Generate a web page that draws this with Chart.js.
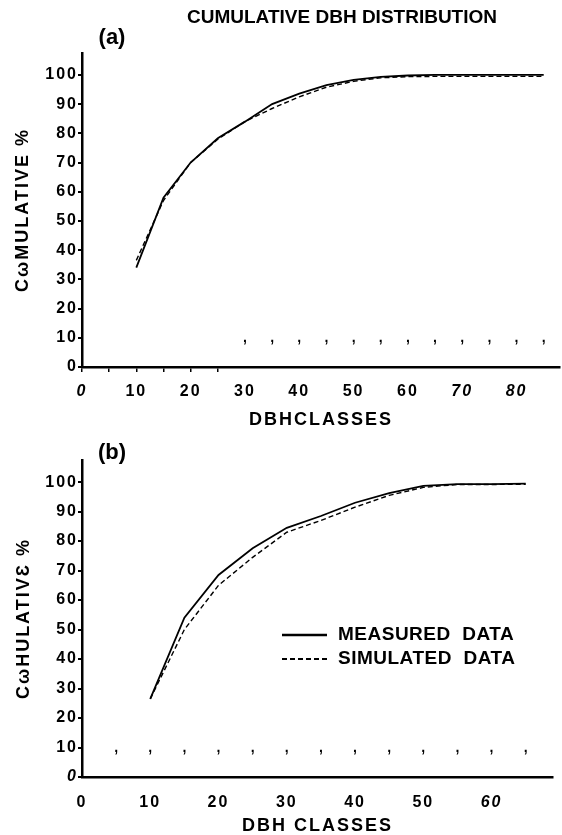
<!DOCTYPE html>
<html>
<head>
<meta charset="utf-8">
<script src="https://cdn.jsdelivr.net/npm/chart.js@4.4.0/dist/chart.umd.min.js"></script>
<style>
  body { margin: 0; background: #fff; }
  .wrap { position: absolute; left: 0; width: 562px; }
  #wrapA { top: 0; height: 435px; }
  #wrapB { top: 435px; height: 400px; }
</style>
</head>
<body>
<div class="wrap" id="wrapA"><canvas id="chartA"></canvas></div>
<div class="wrap" id="wrapB"><canvas id="chartB"></canvas></div>
<script>
// (a) cumulative dbh distribution
const classesA = [10, 15, 20, 25, 30, 35, 40, 45, 50, 55, 60, 65, 70, 75, 80, 85];
const measuredA = [34, 58, 70, 78.3, 84, 90, 93.6, 96.5, 98.3, 99.3, 99.8, 100, 100, 100, 100, 100];
const simulatedA = [36.5, 57, 70, 78, 84, 88.5, 92.5, 95.8, 97.8, 99, 99.4, 99.5, 99.5, 99.5, 99.5, 99.5];
const xTicksA = [0, 5, 10, 15, 20, 25, 30, 40, 50, 60, 70, 80];
const commasA = [30, 35, 40, 45, 50, 55, 60, 65, 70, 75, 80, 85];

// (b)
const classesB = [10, 15, 20, 25, 30, 35, 40, 45, 50, 55, 60, 65];
const measuredB = [26.5, 54, 68.5, 77.6, 84.5, 88.5, 93, 96.3, 98.7, 99.3, 99.3, 99.5];
const simulatedB = [26.5, 50, 65, 74.5, 83, 87, 91.5, 95.5, 98.2, 99.2, 99.2, 99.3];
const xTicksB = [0, 10, 20, 30, 40, 50, 60];
const commasB = [5, 10, 15, 20, 25, 30, 35, 40, 45, 50, 55, 60, 65];

const yTicks = [0, 10, 20, 30, 40, 50, 60, 70, 80, 90, 100];

const FONT = '"Liberation Sans", Arial, sans-serif';

const toXY = (xs, ys) => xs.map((x, i) => ({ x: x, y: ys[i] }));

// little marks the library has no option for: commas, title, panel letter, legend
const marks = {
  id: 'marks',
  beforeUpdate(chart) {
    chart.ctx.letterSpacing = '2px';
  },
  afterDatasetsDraw(chart, args, opts) {
    const { ctx, scales: { x, y } } = chart;
    ctx.save();
    ctx.fillStyle = '#000';
    ctx.letterSpacing = '0px';
    ctx.font = 'bold 14px ' + FONT;
    ctx.textAlign = 'center';
    ctx.textBaseline = 'alphabetic';
    opts.commas.forEach(v => ctx.fillText(',', x.getPixelForValue(v), y.getPixelForValue(opts.commaY)));

    ctx.textBaseline = 'middle';
    opts.texts.forEach(t => {
      ctx.font = t.font;
      ctx.textAlign = t.align || 'center';
      ctx.letterSpacing = t.spacing || '0px';
      ctx.fillText(t.text, t.x, t.y);
    });

    if (opts.legend) {
      const L = opts.legend;
      chart.data.datasets.forEach((ds, i) => {
        const yy = L.y + i * L.gap;
        ctx.beginPath();
        ctx.setLineDash(ds.borderDash || []);
        ctx.lineWidth = ds.borderWidth + 0.6;
        ctx.strokeStyle = ds.borderColor;
        ctx.moveTo(L.x, yy);
        ctx.lineTo(L.x + L.len, yy);
        ctx.stroke();
        ctx.setLineDash([]);
        ctx.font = L.font;
        ctx.textAlign = 'left';
        ctx.letterSpacing = '0.5px';
        ctx.fillText(ds.label, L.x + L.len + 11, yy);
      });
    }
    ctx.restore();
  }
};

function makeChart(id, cfg) {
  return new Chart(document.getElementById(id), {
    type: 'line',
    data: {
      datasets: [
        {
          label: 'MEASURED  DATA',
          data: toXY(cfg.classes, cfg.measured),
          borderColor: '#000',
          borderWidth: 1.8,
          pointRadius: 0,
          tension: 0,
          fill: false
        },
        {
          label: 'SIMULATED  DATA',
          data: toXY(cfg.classes, cfg.simulated),
          borderColor: '#000',
          borderWidth: 1.4,
          borderDash: [5, 3],
          pointRadius: 0,
          tension: 0,
          fill: false
        }
      ]
    },
    options: {
      responsive: true,
      maintainAspectRatio: false,
      animation: false,
      layout: { padding: cfg.padding },
      plugins: {
        legend: { display: false },
        tooltip: { enabled: false },
        marks: cfg.marks
      },
      scales: {
        x: {
          type: 'linear',
          min: 0,
          max: cfg.xMax,
          afterBuildTicks: s => { s.ticks = cfg.xTicks.map(v => ({ value: v })); },
          afterFit: s => { s.height = cfg.xHeight; },
          border: { color: '#000', width: 2.5 },
          grid: {
            display: cfg.xTickMarks,
            drawOnChartArea: false,
            tickLength: 5,
            lineWidth: 1.5,
            tickColor: c => (c.tick && c.tick.value <= 25) ? '#000' : 'rgba(0,0,0,0)'
          },
          ticks: {
            autoSkip: false,
            maxRotation: 0,
            padding: cfg.xPad,
            color: '#000',
            font: c => ({ family: FONT, size: 16, weight: 'bold',
              style: cfg.italicX.includes(c.tick && c.tick.value) ? 'italic' : 'normal' }),
            callback: v => (v % 10 === 0 ? String(v) : '')
          },
          title: {
            display: true,
            text: cfg.xTitle,
            color: '#000',
            font: { family: FONT, size: 18, weight: 'bold', lineHeight: 1 },
            padding: { top: 0, bottom: cfg.xTitlePad }
          }
        },
        y: {
          type: 'linear',
          min: 0,
          max: 107.5,
          afterBuildTicks: s => { s.ticks = yTicks.map(v => ({ value: v })); },
          afterFit: s => { s.width = 82; },
          border: { color: '#000', width: 2.5 },
          grid: { drawOnChartArea: false, tickLength: 4, lineWidth: 2, color: '#000' },
          ticks: {
            autoSkip: false,
            padding: 0,
            color: '#000',
            font: c => ({ family: FONT, size: 16, weight: 'bold',
              style: cfg.italicY.includes(c.tick && c.tick.value) ? 'italic' : 'normal' })
          },
          title: {
            display: true,
            text: cfg.yTitle,
            color: '#000',
            font: { family: FONT, size: 18, weight: 'bold', lineHeight: 1.2 },
            padding: { top: cfg.yTitlePad, bottom: 0 }
          }
        }
      }
    },
    plugins: [marks]
  });
}

makeChart('chartA', {
  classes: classesA, measured: measuredA, simulated: simulatedA,
  xTicks: xTicksA, xMax: 88, xHeight: 68, xPad: 10, xTickMarks: true,
  xTitle: 'DBHCLASSES', xTitlePad: 6, yTitle: 'CωMULATIVE %', yTitlePad: 12,
  italicX: [0, 70, 80], italicY: [],
  padding: { top: 53, right: 2, left: 0, bottom: 0 },
  marks: {
    commas: commasA, commaY: 8.5,
    texts: [
      { text: 'CUMULATIVE DBH DISTRIBUTION', x: 342, y: 18, font: 'bold 19px ' + FONT },
      { text: '(a)', x: 112, y: 38, font: 'bold 22px ' + FONT }
    ]
  }
});

makeChart('chartB', {
  classes: classesB, measured: measuredB, simulated: simulatedB,
  xTicks: xTicksB, xMax: 69, xHeight: 58, xPad: 11, xTickMarks: false,
  xTitle: 'DBH CLASSES', xTitlePad: 0, yTitle: 'CωHULATIVƐ %', yTitlePad: 13,
  italicX: [60], italicY: [0],
  padding: { top: 25, right: 9, left: 0, bottom: 0 },
  marks: {
    commas: commasB, commaY: 8.5,
    texts: [
      { text: '(b)', x: 112, y: 18, font: 'bold 22px ' + FONT }
    ],
    legend: { x: 282, y: 200, gap: 24, len: 45, font: 'bold 19px ' + FONT }
  }
});
</script>
</body>
</html>
